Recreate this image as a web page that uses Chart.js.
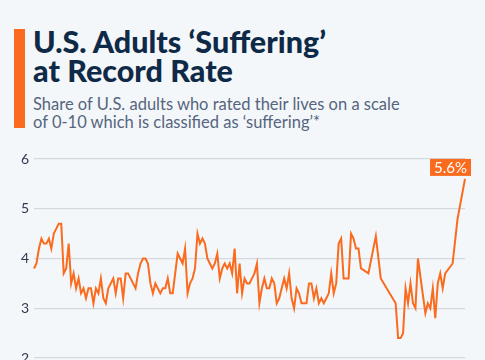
<!DOCTYPE html>
<html>
<head>
<meta charset="utf-8">
<script src="https://cdn.jsdelivr.net/npm/chart.js@4"></script>
<style>
  html, body { margin: 0; padding: 0; background: #f4f7fa; overflow: hidden; }
  body { width: 485px; height: 360px; position: relative; font-family: Lato, sans-serif; }
  #barra { position: absolute; left: 14px; top: 29px; width: 11px; height: 99px; background: #fa6b1e; }
  #titulo { position: absolute; left: 33px; top: 27px; margin: 0; font-size: 30.5px; line-height: 28.5px;
            font-weight: 900; color: #0f2a47; white-space: nowrap; }
  #subtitulo { position: absolute; left: 33px; top: 94.5px; margin: 0; font-size: 16.5px; line-height: 18.3px;
               color: #55657d; white-space: nowrap; }
  #caja { position: absolute; left: 0; top: 140px; width: 485px; height: 240px; }
</style>
</head>
<body>
<div id="barra"></div>
<h1 id="titulo">U.S. Adults ‘Suffering’<br>at Record Rate</h1>
<p id="subtitulo">Share of U.S. adults who rated their lives on a scale<br>of 0-10 which is classified as ‘suffering’*</p>
<div id="caja"><canvas id="grafico"></canvas></div>
<script>
// --- Datos (% de adultos en "sufrimiento"), null = sin encuesta ese periodo ---
const sufrimiento = [
  3.8, 3.9, 4.2, 4.4, 4.3, 4.3, 4.4, 4.2, 4.5, 4.6, 4.7, 4.7, 3.7, 3.8, 4.3,
  3.5, 3.7, 3.4, 3.6, 3.3, 3.4, 3.2, 3.4, 3.4, 3.1, 3.4, 3.3, 3.6, 3.2, 3.1,
  3.4, 3.5, 3.6, 3.3, 3.6, 3.6, 3.2, 3.7, 3.7, 3.6, 3.5, 3.4, 3.7, 3.9, 4.0,
  4.0, 3.9, 3.5, 3.3, 3.5, 3.4, 3.3, 3.4, 3.4, 3.6, 3.3, 3.3, 3.7, 4.1, 4.0,
  3.9, 4.2, 3.3, 3.5, 3.6, 3.8, 4.5, 4.3, 4.4, 4.3, 4.0, 3.9, 3.8, 3.9, 4.1,
  3.6, 3.8, 3.9, 3.8, 3.9, 3.7, 4.2, 3.3, 3.9, 3.3, 3.6, 3.5, 3.5, 3.6, 3.7,
  3.9, 3.1, 3.4, 3.6, 3.4, 3.4, 3.6, 3.5, 3.1, 3.2, 3.4, 3.6, 3.4, 3.7, 3.2,
  3.0, 3.4, 3.3, 3.1, 3.1, 3.1, 3.5, 3.5, 3.2, 3.4, 3.1, 3.2, 3.1, 3.2, 3.3,
  3.7, 3.3, 3.5, 4.3, 4.4, 3.6, 3.6, 3.6, 4.5, 4.4, 4.2, 4.2, 3.8, null, null,
  3.7, null, null, 4.45, null, 3.6, null, null, null, null, null, 3.1, 2.4, 2.4, 2.5,
  3.4, 3.1, 3.5, 3.1, 3.0, 4.0, null, null, 2.9, 3.1, 3.0, 3.4, 2.8, 3.5, 3.7,
  3.4, 3.7, null, null, 3.9, null, 4.8, null, null, 5.6
];
const periodos = sufrimiento.map((_, i) => i + 1);
const ticksY = [2, 3, 4, 5, 6];
const etiquetaFinal = '5.6%';

const naranja = '#fa6b1e';

// Etiqueta naranja sobre el ultimo punto
const etiquetaPlugin = {
  id: 'etiquetaFinal',
  afterDatasetsDraw(chart) {
    const meta = chart.getDatasetMeta(0);
    const p = meta.data[meta.data.length - 1];
    const ctx = chart.ctx;
    ctx.save();
    ctx.font = '15px Lato, sans-serif';
    const w = ctx.measureText(etiquetaFinal).width + 8;
    const h = 17;
    const x = p.x + 6 - w;
    const y = p.y - 3 - h;
    ctx.fillStyle = naranja;
    ctx.fillRect(x, y, w, h);
    ctx.fillStyle = '#ffffff';
    ctx.textAlign = 'center';
    ctx.textBaseline = 'middle';
    ctx.fillText(etiquetaFinal, x + w / 2, y + h / 2 + 1);
    ctx.restore();
  }
};

new Chart(document.getElementById('grafico'), {
  type: 'line',
  data: {
    labels: periodos,
    datasets: [{
      data: sufrimiento,
      borderColor: naranja,
      borderWidth: 2,
      pointRadius: 0,
      tension: 0,
      spanGaps: true
    }]
  },
  options: {
    responsive: true,
    maintainAspectRatio: false,
    animation: false,
    layout: { padding: { left: 0, right: 20, top: 19, bottom: 22 } },
    plugins: { legend: { display: false }, tooltip: { enabled: false } },
    scales: {
      x: { display: false },
      y: {
        min: 2,
        max: 6,
        afterFit(scale) { scale.width = 34; },
        afterBuildTicks(scale) { scale.ticks = ticksY.map(v => ({ value: v })); },
        border: { display: false },
        grid: { color: '#d3d9e0', lineWidth: 1.2, drawTicks: false },
        ticks: { padding: 5, color: '#2e3b4e', font: { family: 'Lato', size: 14 } }
      }
    }
  },
  plugins: [etiquetaPlugin]
});
</script>
</body>
</html>
